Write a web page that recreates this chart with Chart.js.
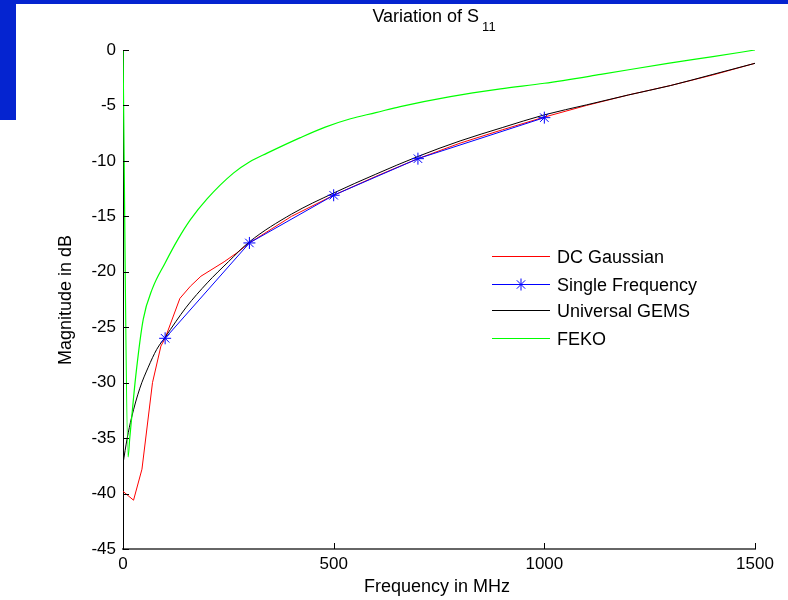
<!DOCTYPE html>
<html>
<head>
<meta charset="utf-8">
<script src="https://cdn.jsdelivr.net/npm/chart.js@4.4.1/dist/chart.umd.min.js"></script>
<style>
  html, body { margin: 0; padding: 0; background: #fff; }
  #wrap { position: relative; width: 788px; height: 600px; overflow: hidden; }
  #topbar { position: absolute; left: 0; top: 0; width: 788px; height: 4px; background: #0524d0; }
  #sidebar { position: absolute; left: 0; top: 0; width: 16px; height: 120px; background: #0524d0; }
  canvas { position: absolute; left: 0; top: 0; }
</style>
</head>
<body>
<div id="wrap">
  <canvas id="s11" width="788" height="600"></canvas>
  <div id="topbar"></div>
  <div id="sidebar"></div>
</div>
<script>
// values (frequency in MHz, magnitude in dB)
const seriesNames = ['DC Gaussian', 'Single Frequency', 'Universal GEMS', 'FEKO'];

const gaussFreq = [0, 25, 45, 70, 90, 100, 135, 160, 185, 240, 270, 300, 400, 500, 600, 700, 800, 900, 1000, 1100, 1200, 1300, 1400, 1500];
const gaussDb   = [-39.8, -40.6, -37.8, -30.0, -26.7, -26.0, -22.4, -21.3, -20.4, -19.1, -18.3, -17.4, -15.0, -13.1, -11.4, -9.8, -8.4, -7.2, -6.05, -5.0, -4.05, -3.2, -2.25, -1.2];

const singleFreq = [100, 300, 500, 700, 1000];
const singleDb   = [-26.0, -17.4, -13.1, -9.8, -6.1];

const gemsFreq = [0, 10, 20, 40, 60, 80, 100, 150, 200, 250, 300, 400, 500, 600, 700, 800, 900, 1000, 1100, 1200, 1300, 1400, 1500];
const gemsDb   = [-37.3, -35.0, -33.2, -30.5, -28.6, -27.0, -25.9, -23.2, -21.0, -19.1, -17.3, -14.8, -12.9, -11.2, -9.6, -8.2, -7.0, -5.85, -4.95, -4.05, -3.2, -2.2, -1.2];

const fekoFreq = [0, 12, 16, 20, 30, 48, 70, 100, 130, 160, 200, 262, 300, 342, 421, 480, 540, 600, 658, 777, 896, 1000, 1134, 1293, 1400, 1500];
const fekoDb   = [0, -36.7, -35.0, -33.4, -29.5, -24.3, -21.5, -19.2, -17.1, -15.3, -13.4, -11.1, -10.1, -9.3, -7.9, -6.95, -6.2, -5.65, -5.1, -4.2, -3.5, -3.0, -2.2, -1.2, -0.6, 0];

const xTicks = [0, 500, 1000, 1500];
const yTicks = [0, -5, -10, -15, -20, -25, -30, -35, -40, -45];

const colors = ['#ff0000', '#0000ff', '#000000', '#00ff00'];
const FONT = '"Liberation Sans", Arial, Helvetica, sans-serif';

function pts(xs, ys) {
  return xs.map((x, i) => ({ x: x, y: ys[i] }));
}

// MATLAB style: ticks inside the axes, titles and legend drawn by hand
const decorations = {
  id: 'decorations',
  afterDraw(chart) {
    const ctx = chart.ctx;
    const xs = chart.scales.x, ys = chart.scales.y;
    const area = chart.chartArea;
    ctx.save();
    ctx.strokeStyle = '#000';
    ctx.lineWidth = 1;
    yTicks.forEach(v => {
      const py = Math.round(ys.getPixelForValue(v)) + 0.5;
      ctx.beginPath();
      ctx.moveTo(area.left, py);
      ctx.lineTo(area.left + 6, py);
      ctx.stroke();
    });
    xTicks.forEach(v => {
      const px = Math.round(xs.getPixelForValue(v)) + 0.5;
      ctx.beginPath();
      ctx.moveTo(px, area.bottom);
      ctx.lineTo(px, area.bottom - 6);
      ctx.stroke();
    });

    // title with subscript
    ctx.fillStyle = '#000';
    ctx.textBaseline = 'alphabetic';
    const main = 'Variation of S';
    ctx.font = '13px ' + FONT;
    const subW = ctx.measureText('11').width;
    ctx.font = '18px ' + FONT;
    const mainW = ctx.measureText(main).width;
    const tx = 434 - (mainW + subW + 3) / 2;
    ctx.textAlign = 'left';
    ctx.fillText(main, tx, 22);
    ctx.font = '13px ' + FONT;
    ctx.fillText('11', tx + mainW + 3, 31);

    // axis titles
    ctx.font = '18px ' + FONT;
    ctx.textAlign = 'center';
    ctx.fillText('Frequency in MHz', 437, 592);
    ctx.save();
    ctx.translate(71, 300);
    ctx.rotate(-Math.PI / 2);
    ctx.fillText('Magnitude in dB', 0, 0);
    ctx.restore();

    // legend
    const rows = [256, 284, 310, 338];
    ctx.textAlign = 'left';
    seriesNames.forEach((name, i) => {
      const ry = rows[i] + 0.5;
      ctx.strokeStyle = colors[i];
      ctx.lineWidth = 1;
      ctx.beginPath();
      ctx.moveTo(492, ry);
      ctx.lineTo(550, ry);
      ctx.stroke();
      if (i === 1) {
        const r = 6;
        ctx.beginPath();
        ctx.moveTo(521 - r, ry); ctx.lineTo(521 + r, ry);
        ctx.moveTo(521, ry - r); ctx.lineTo(521, ry + r);
        ctx.moveTo(521 - r * 0.7, ry - r * 0.7); ctx.lineTo(521 + r * 0.7, ry + r * 0.7);
        ctx.moveTo(521 - r * 0.7, ry + r * 0.7); ctx.lineTo(521 + r * 0.7, ry - r * 0.7);
        ctx.stroke();
      }
      ctx.fillStyle = '#000';
      ctx.font = '18px ' + FONT;
      ctx.fillText(name, 557, rows[i] + 6.5);
    });
    ctx.restore();
  }
};

new Chart(document.getElementById('s11'), {
  type: 'line',
  data: {
    datasets: [
      { label: seriesNames[0], data: pts(gaussFreq, gaussDb), borderColor: colors[0], borderWidth: 1, pointRadius: 0, order: 4 },
      { label: seriesNames[1], data: pts(singleFreq, singleDb), borderColor: colors[1], borderWidth: 1,
        pointStyle: 'star', pointRadius: 6, pointBorderColor: colors[1], pointBorderWidth: 1, order: 1 },
      { label: seriesNames[2], data: pts(gemsFreq, gemsDb), borderColor: colors[2], borderWidth: 1, pointRadius: 0,
        cubicInterpolationMode: 'monotone', order: 3 },
      { label: seriesNames[3], data: pts(fekoFreq, fekoDb), borderColor: colors[3], borderWidth: 1.2, pointRadius: 0,
        cubicInterpolationMode: 'monotone', order: 2 }
    ]
  },
  options: {
    responsive: false,
    animation: false,
    events: [],
    layout: { padding: { left: 0, top: 50, right: 33, bottom: 0 } },
    plugins: { legend: { display: false }, tooltip: { enabled: false }, title: { display: false } },
    scales: {
      x: {
        type: 'linear', min: 0, max: 1500,
        afterFit(scale) { scale.height = 51; },
        afterBuildTicks(scale) { scale.ticks = xTicks.map(v => ({ value: v })); },
        grid: { display: true, drawOnChartArea: false, drawTicks: false },
        border: { display: true, color: '#666', width: 2 },
        ticks: { color: '#000', padding: 5, maxRotation: 0, font: { family: FONT, size: 17 },
                 callback: v => String(v) }
      },
      y: {
        type: 'linear', min: -45, max: 0,
        afterFit(scale) { scale.width = 123; },
        afterBuildTicks(scale) { scale.ticks = yTicks.map(v => ({ value: v })); },
        grid: { display: true, drawOnChartArea: false, drawTicks: false },
        border: { display: true, color: '#000', width: 1 },
        ticks: { color: '#000', padding: 7, font: { family: FONT, size: 17 },
                 callback: v => String(v) }
      }
    }
  },
  plugins: [decorations]
});
</script>
</body>
</html>
